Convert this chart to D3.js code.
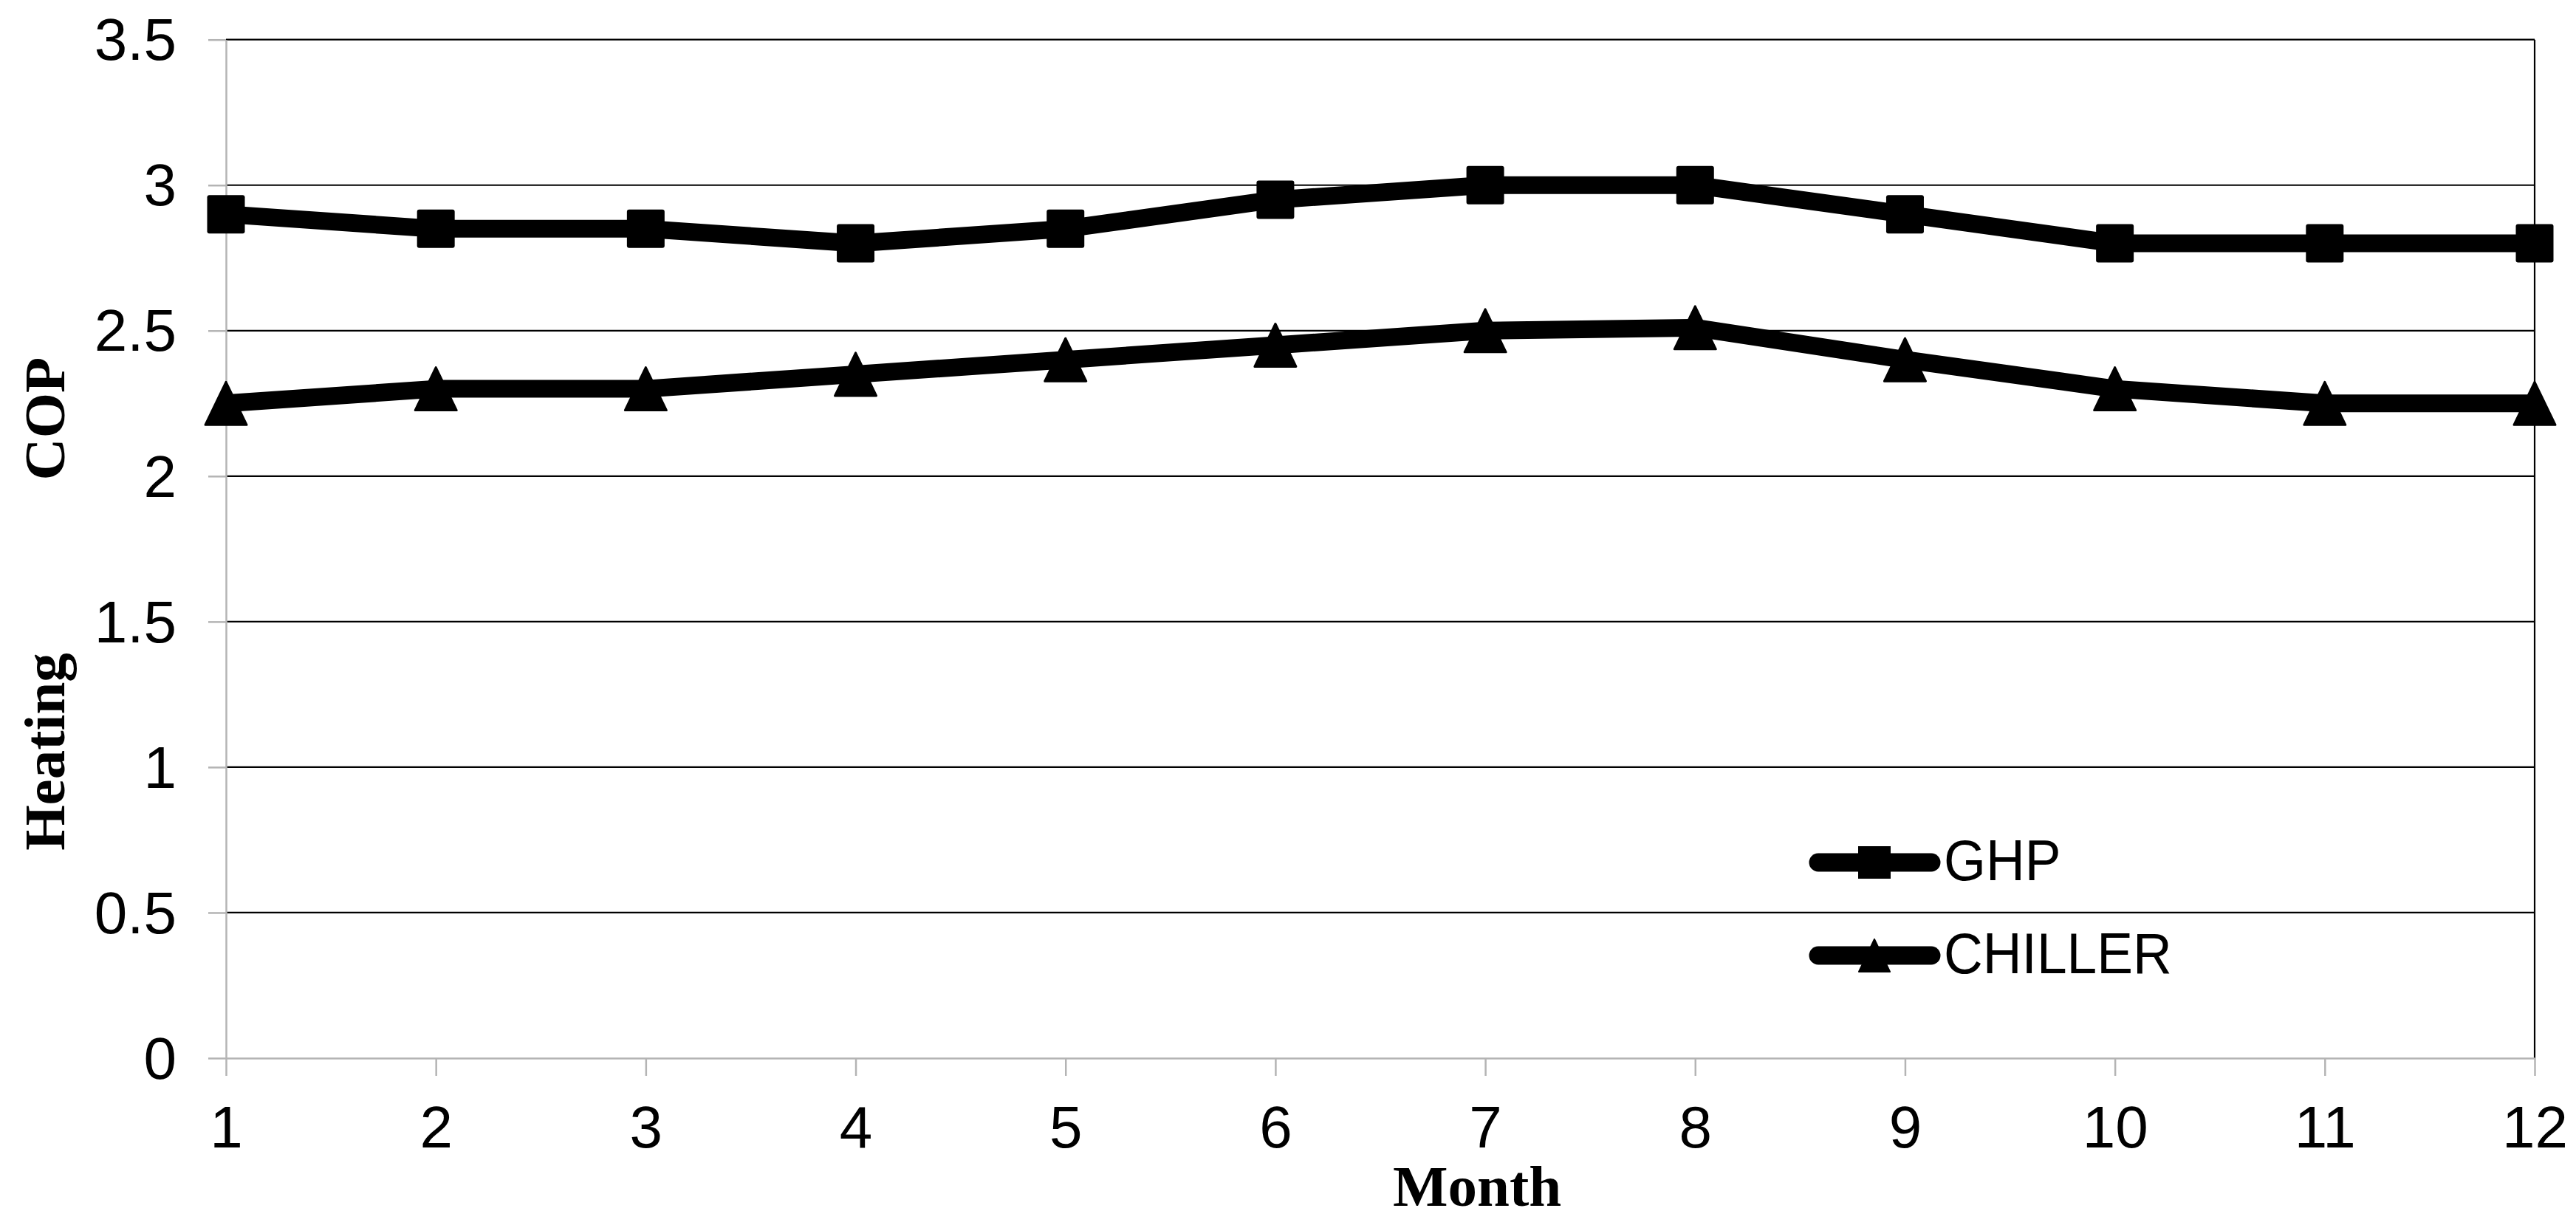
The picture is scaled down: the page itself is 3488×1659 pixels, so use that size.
<!DOCTYPE html>
<html><head><meta charset="utf-8">
<script src="https://cdn.jsdelivr.net/npm/d3@7/dist/d3.min.js"></script>
<style>html,body{margin:0;padding:0;background:#fff;} svg{display:block}</style>
</head><body>
<svg id="c" width="3488" height="1659"></svg>
<script>
const months = [1,2,3,4,5,6,7,8,9,10,11,12];
const ghp = [2.90,2.85,2.85,2.80,2.85,2.95,3.00,3.00,2.90,2.80,2.80,2.80];
const chiller = [2.25,2.30,2.30,2.35,2.40,2.45,2.50,2.51,2.40,2.30,2.25,2.25];
const yTicks = [0,0.5,1,1.5,2,2.5,3,3.5];
const seriesNames = ["GHP","CHILLER"];
const xTitle = "Month";
const yTitleA = "Heating";
const yTitleB = "COP";

const svg = d3.select("#c");
const L = 306, R = 3432, T = 53.7, B = 1433;
const gray = "#b4b4b4";
const x = d3.scaleLinear().domain([1,12]).range([L,R]);
const y = d3.scaleLinear().domain([0,3.5]).range([B,T]);

// gridlines
svg.append("g").selectAll("line").data(yTicks.filter(d=>d>0)).join("line")
  .attr("x1",L).attr("x2",R).attr("y1",d=>y(d)).attr("y2",d=>y(d))
  .attr("stroke","#000").attr("stroke-width",2.2);
// right border
svg.append("line").attr("x1",R).attr("x2",R).attr("y1",T).attr("y2",B)
  .attr("stroke","#000").attr("stroke-width",2.2);

const fontSans = "'Liberation Sans', Arial, sans-serif";
const fontSerif = "'Liberation Serif', 'Times New Roman', serif";

// y axis
const gy = svg.append("g").attr("transform",`translate(${L},0)`)
  .call(d3.axisLeft(y).tickValues(yTicks).tickSize(24).tickSizeOuter(0).tickPadding(43).tickFormat(d=>String(d)));
// x axis
const gx = svg.append("g").attr("transform",`translate(0,${B})`)
  .call(d3.axisBottom(x).tickValues(months).tickSize(24).tickSizeOuter(0).tickPadding(40).tickFormat(d=>String(d)));
[gy,gx].forEach(g=>{
  g.select(".domain").attr("stroke",gray).attr("stroke-width",2.5);
  g.selectAll(".tick line").attr("stroke",gray).attr("stroke-width",2.5);
  g.selectAll(".tick text").attr("fill","#000").attr("font-family",fontSans).attr("font-size",80);
});
gy.selectAll(".tick text").attr("dy","0.34em");

// lines
const line = d3.line().x((d,i)=>x(months[i])).y(d=>y(d));
[ghp,chiller].forEach(s=>{
  svg.append("path").datum(s).attr("d",line).attr("fill","none")
    .attr("stroke","#000").attr("stroke-width",24).attr("stroke-linejoin","round");
});

const triPath = (w,h)=>`M0,${-h/2}L${w/2},${h/2}L${-w/2},${h/2}Z`;
// markers
svg.append("g").selectAll("rect").data(ghp).join("rect")
  .attr("x",(d,i)=>x(months[i])-25.5).attr("y",d=>y(d)-26)
  .attr("width",51).attr("height",52).attr("rx",3).attr("fill","#000");
svg.append("g").selectAll("path").data(chiller).join("path")
  .attr("transform",(d,i)=>`translate(${x(months[i])},${y(d)})`)
  .attr("d",triPath(56,58)).attr("fill","#000").attr("stroke","#000")
  .attr("stroke-width",3).attr("stroke-linejoin","round");

// legend
const leg = svg.append("g");
const legY = [1168,1294];
legY.forEach((ly,i)=>{
  leg.append("line").attr("x1",2462).attr("x2",2615).attr("y1",ly).attr("y2",ly)
    .attr("stroke","#000").attr("stroke-width",25).attr("stroke-linecap","round");
  if(i===0){
    leg.append("rect").attr("x",2516).attr("y",ly-22).attr("width",44).attr("height",44).attr("fill","#000");
  } else {
    leg.append("path").attr("transform",`translate(2538,${ly})`).attr("d",triPath(42,44))
      .attr("fill","#000").attr("stroke","#000").attr("stroke-width",2).attr("stroke-linejoin","round");
  }
  leg.append("text").attr("transform",`translate(2632,${ly+24}) scale(0.95,1)`)
    .attr("font-family",fontSans).attr("font-size",77).attr("fill","#000").text(seriesNames[i]);
});

// titles
svg.append("text").attr("x",2000).attr("y",1633).attr("text-anchor","middle")
  .attr("font-family",fontSerif).attr("font-weight","bold").attr("font-size",79).text(xTitle);
svg.append("text").attr("transform","translate(87,1018) rotate(-90)").attr("text-anchor","middle")
  .attr("font-family",fontSerif).attr("font-weight","bold").attr("font-size",79).text(yTitleA);
svg.append("text").attr("transform","translate(87,567) rotate(-90)").attr("text-anchor","middle")
  .attr("font-family",fontSerif).attr("font-weight","bold").attr("font-size",79).text(yTitleB);
</script>
</body></html>
